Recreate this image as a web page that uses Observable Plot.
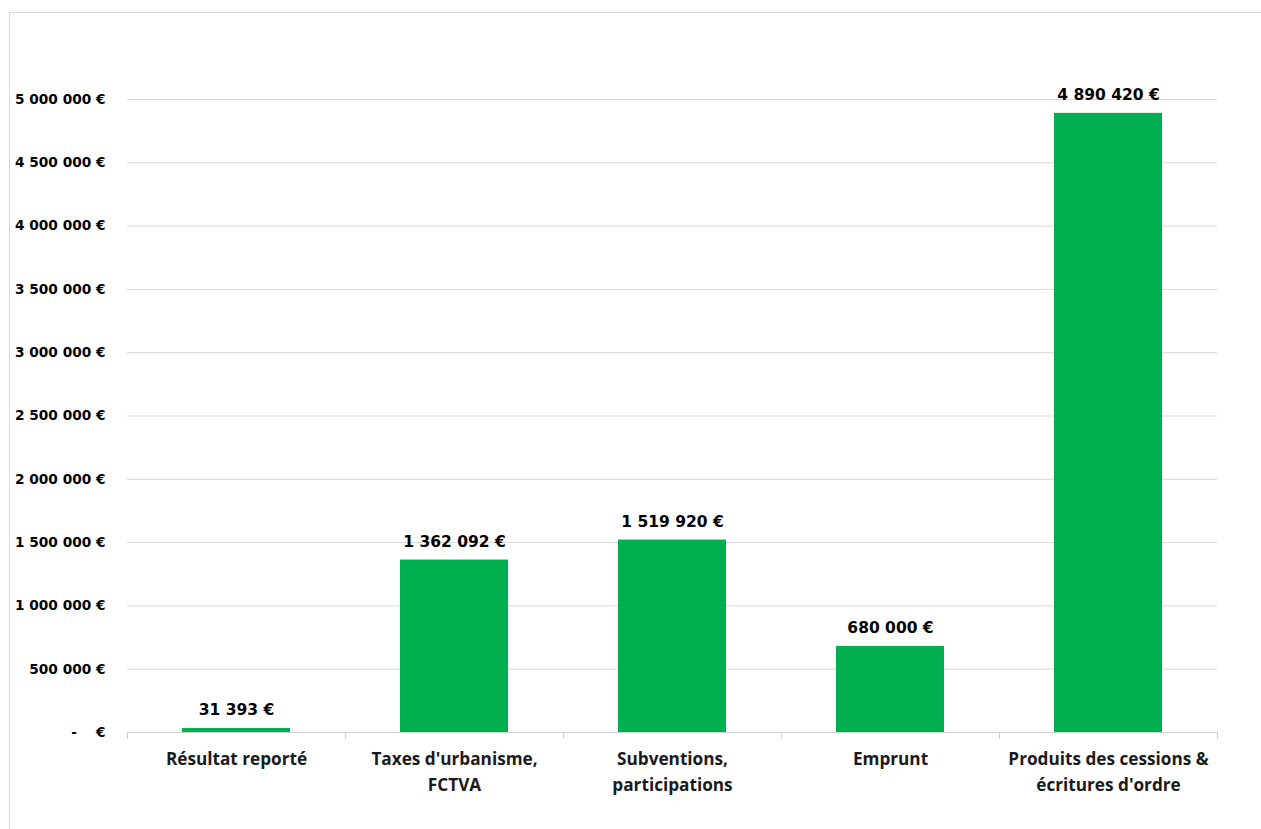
<!DOCTYPE html>
<html>
<head>
<meta charset="utf-8">
<script src="https://cdn.jsdelivr.net/npm/d3@7"></script>
<script src="https://cdn.jsdelivr.net/npm/@observablehq/plot@0.6"></script>
<style>
  html, body { margin: 0; padding: 0; background: #fff; }
  #frame { position: absolute; left: 9px; top: 12px; width: 1300px; height: 900px;
           border-top: 1px solid #d9d9d9; border-left: 1px solid #d9d9d9; }
  #chart { position: absolute; left: 0; top: 0; }
</style>
</head>
<body>
<div id="frame"></div>
<div id="chart"></div>
<script>
const categories = [
  "Résultat reporté",
  "Taxes d'urbanisme,\nFCTVA",
  "Subventions,\nparticipations",
  "Emprunt",
  "Produits des cessions &\nécritures d'ordre"
];
const values = [31393, 1362092, 1519920, 680000, 4890420];
const yTicks = [0, 500000, 1000000, 1500000, 2000000, 2500000, 3000000, 3500000, 4000000, 4500000, 5000000];

const data = categories.map((c, i) => ({cat: c, value: values[i]}));
const nb = "\u00a0";
function eur(v) {
  if (v === 0) return "-" + nb + nb + nb + nb + "€";
  return d3.format(",")(v).replace(/,/g, nb) + nb + "€";
}

const plot = Plot.plot({
  width: 1261,
  height: 829,
  marginLeft: 127,
  marginRight: 44,
  marginTop: 99,
  marginBottom: 97,
  style: {background: "transparent", overflow: "visible"},
  x: {domain: categories, padding: 0, label: null},
  y: {domain: [0, 5000000], label: null},
  marks: [
    Plot.gridY(yTicks, {stroke: "#d9d9d9", strokeOpacity: 1}),
    Plot.axisY(yTicks, {
      tickSize: 0, tickPadding: 22, tickFormat: eur,
      fontFamily: "DejaVu Sans", fontWeight: "bold", fontSize: 13.7, fill: "#000"
    }),
    Plot.barY(data, {x: "cat", y: "value", fill: "#00b050", insetLeft: 55, insetRight: 55}),
    Plot.ruleY([0], {stroke: "#d0d0d0"}),
    Plot.axisX(categories, {tickSize: 7, tickFormat: () => "", dx: -109, stroke: "#d0d0d0"}),
    Plot.axisX([categories[categories.length - 1]], {tickSize: 7, tickFormat: () => "", dx: 109, stroke: "#d0d0d0"}),
    Plot.axisX(categories, {
      tickSize: 0, tickPadding: 14, lineHeight: 1.5,
      fontFamily: "Open Sans", fontWeight: "bold", fontSize: 17.2, fill: "#1a1a1a"
    }),
    Plot.text(data, {
      x: "cat", y: "value", text: d => eur(d.value), dy: -18,
      fontFamily: "DejaVu Sans", fontWeight: "bold", fontSize: 15.5, fill: "#000"
    })
  ]
});
document.getElementById("chart").appendChild(plot);
</script>
</body>
</html>
